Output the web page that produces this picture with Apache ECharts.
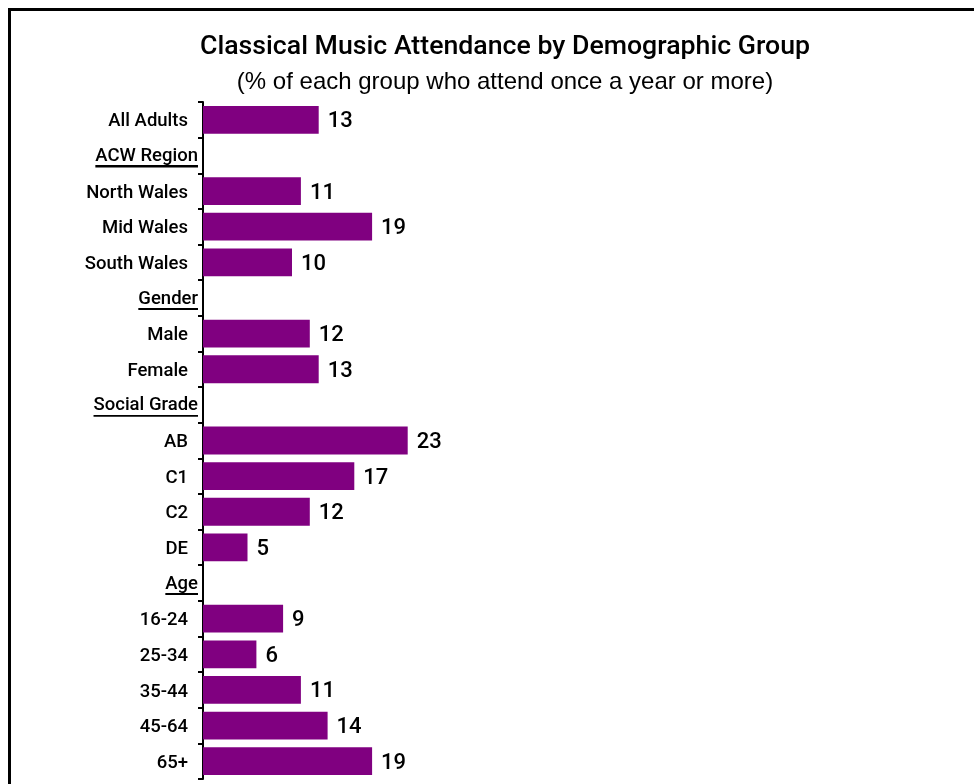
<!DOCTYPE html>
<html>
<head>
<meta charset="utf-8">
<script src="https://cdn.jsdelivr.net/npm/echarts@6/dist/echarts.min.js"></script>
<style>
  html, body { margin: 0; padding: 0; background: #fff; }
  #wrap { position: relative; width: 974px; height: 784px; overflow: hidden; }
  #frame { position: absolute; left: 8px; top: 8px; width: 1000px; height: 800px; border-left: 3px solid #000; border-top: 3px solid #000; box-sizing: border-box; }
  #chart { position: absolute; left: 0; top: 0; width: 974px; height: 784px; }
</style>
</head>
<body>
<div id="wrap">
  <div id="frame"></div>
  <div id="chart"></div>
</div>
<script>
const titleText = 'Classical Music Attendance by Demographic Group';
const subtitleText = '(% of each group who attend once a year or more)';
const categories = ['All Adults', 'ACW Region', 'North Wales', 'Mid Wales', 'South Wales',
  'Gender', 'Male', 'Female', 'Social Grade', 'AB', 'C1', 'C2', 'DE',
  'Age', '16-24', '25-34', '35-44', '45-64', '65+'];
const headers = ['ACW Region', 'Gender', 'Social Grade', 'Age'];
const values = [13, null, 11, 19, 10, null, 12, 13, null, 23, 17, 12, 5, null, 9, 6, 11, 14, 19];

const FONT = 'Roboto';
const FONT2 = 'Liberation Sans';
const underline = new echarts.graphic.LinearGradient(0, 0, 0, 1, [
  { offset: 0, color: 'rgba(0,0,0,0)' },
  { offset: 0.91, color: 'rgba(0,0,0,0)' },
  { offset: 0.91, color: '#000' },
  { offset: 1, color: '#000' }
]);

const chart = echarts.init(document.getElementById('chart'), null, { renderer: 'canvas' });
chart.setOption({
  animation: false,
  backgroundColor: 'transparent',
  title: [
    { text: titleText, left: 500, top: 29, textAlign: 'center',
      textStyle: { fontFamily: FONT, fontSize: 26.7, fontWeight: 500, color: '#000' } },
    { text: subtitleText, left: 500, top: 65, textAlign: 'center',
      textStyle: { fontFamily: FONT2, fontSize: 24, fontWeight: 'normal', color: '#000' } }
  ],
  grid: { left: 203, top: 102, height: 677, right: 59 },
  xAxis: { type: 'value', min: 0, max: 80, show: false },
  yAxis: {
    type: 'category', data: categories, inverse: true,
    axisLine: { lineStyle: { color: '#000', width: 2 } },
    axisTick: { show: true, length: 5, inside: false, lineStyle: { color: '#000', width: 2 } },
    axisLabel: {
      margin: 5,
      formatter: v => headers.includes(v) ? '{h|' + v + '}' : '{n|' + v + '}',
      rich: {
        n: { fontFamily: FONT, fontSize: 18.5, fontWeight: 500, color: '#000', padding: [4, 10, 0, 0] },
        h: { fontFamily: FONT, fontSize: 18.5, fontWeight: 500, color: '#000', lineHeight: 22, height: 22,
             padding: [2, 0, 0, 0], backgroundColor: underline }
      }
    }
  },
  series: [{
    type: 'bar', data: values, barWidth: '78%',
    itemStyle: { color: '#800080' },
    label: { show: true, position: 'right', distance: 9, offset: [0, 2],
      fontFamily: FONT, fontSize: 22, fontWeight: 500, color: '#000' }
  }]
});
</script>
</body>
</html>
